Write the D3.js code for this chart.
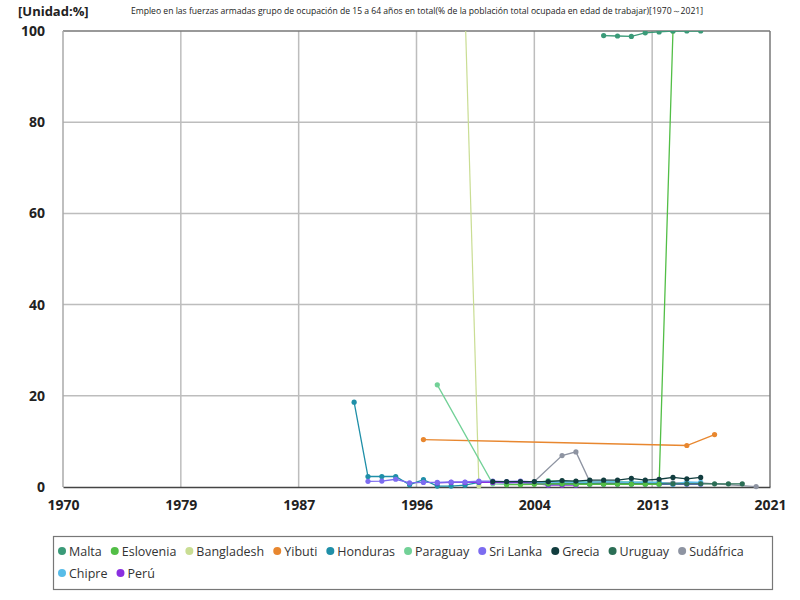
<!DOCTYPE html>
<html><head><meta charset="utf-8">
<script src="https://cdn.jsdelivr.net/npm/d3@7"></script>
<style>body{margin:0;background:#fff;font-family:"Open Sans","Noto Sans",sans-serif;}</style>
</head><body><svg id="c" width="800" height="600"></svg>
<script>
const title = "Empleo en las fuerzas armadas grupo de ocupación de 15 a 64 años en total(% de la población total ocupada en edad de trabajar)[1970～2021]";
const unitLabel = "[Unidad:%]";
const xTickLabels = [1970, 1979, 1987, 1996, 2004, 2013, 2021];
const yTicks = [0, 20, 40, 60, 80, 100];
const seriesNames = ["Malta","Eslovenia","Bangladesh","Yibuti","Honduras","Paraguay","Sri Lanka","Grecia","Uruguay","Sudáfrica","Chipre","Perú"];
const colors = ["#3a9a78","#52be46","#c9dd93","#e8872f","#1f8fa8","#72d197","#7c6cf0","#123d3f","#2b6e55","#8e94a2","#58bce8","#8a2fe0"];

const malta = [[2009,99.0],[2010,98.9],[2011,98.8],[2012,99.6],[2013,99.8],[2014,100],[2015,100],[2016,100]];
const eslovenia = [[2002,0.5],[2003,0.5],[2004,0.6],[2005,0.7],[2006,0.7],[2007,0.6],[2008,0.6],[2009,0.6],[2010,0.6],[2011,0.6],[2012,0.6],[2013,0.6],[2014,100]];
const bangladesh = [[1999,105],[2000,0.3]];
const yibuti = [[1996,10.4],[2015,9.1],[2017,11.5]];
const honduras = [[1991,18.6],[1992,2.3],[1993,2.3],[1994,2.3],[1995,0.5],[1996,1.6],[1997,0.2],[1998,0.2],[1999,0.4],[2000,1.0],[2001,1.1],[2002,1.0],[2003,1.0],[2004,0.9],[2005,0.8],[2006,0.9],[2007,0.8],[2008,0.8],[2009,0.9],[2010,0.9],[2011,0.8],[2012,0.8],[2013,0.9],[2014,0.8],[2015,0.7]];
const paraguay = [[1997,22.4],[2001,0.7],[2002,0.6],[2003,0.7],[2004,0.9],[2005,1.4],[2006,1.3],[2007,1.2],[2008,1.1],[2009,1.1],[2010,1.2],[2011,1.1],[2012,1.0],[2013,1.0]];
const sriLanka = [[1992,1.25],[1993,1.3],[1994,1.7],[1995,0.9],[1996,1.0],[1997,1.0],[1998,1.1],[1999,1.1],[2000,1.3],[2001,1.3],[2002,1.2],[2003,1.3],[2004,1.1],[2005,0.6],[2006,0.7],[2007,0.6],[2008,0.6],[2009,0.6],[2010,0.6],[2011,0.6],[2012,0.6],[2013,0.6],[2014,0.6],[2015,0.6],[2016,0.6]];
const grecia = [[2001,1.2],[2002,1.2],[2003,1.2],[2004,1.2],[2005,1.2],[2006,1.4],[2007,1.3],[2008,1.5],[2009,1.5],[2010,1.5],[2011,1.9],[2012,1.5],[2013,1.7],[2014,2.1],[2015,1.8],[2016,2.1]];
const uruguay = [[2005,0.7],[2006,0.7],[2007,0.7],[2008,0.7],[2009,0.7],[2010,0.7],[2011,0.7],[2012,0.7],[2013,0.7],[2014,0.7],[2015,0.7],[2016,0.7],[2017,0.7],[2018,0.7],[2019,0.7]];
const sudafrica = [[2004,1.2],[2006,6.9],[2007,7.7],[2008,1.2],[2009,0.9],[2010,0.9],[2011,0.9],[2012,0.9],[2013,0.9],[2014,0.9],[2015,0.9],[2016,0.9],[2020,0.1]];
const chipre = [[2004,1.0],[2005,1.1],[2006,1.1],[2007,1.1],[2008,1.0],[2009,1.2],[2010,1.1],[2011,1.0],[2012,1.1],[2013,1.0],[2014,0.6],[2015,1.1],[2016,1.0]];
const peru = [[1997,0.9],[1998,1.0],[1999,1.0],[2000,1.1],[2001,1.0],[2002,0.9],[2003,1.0],[2004,0.8],[2005,0.4],[2006,0.4],[2007,0.4]];

const allSeries = [malta,eslovenia,bangladesh,yibuti,honduras,paraguay,sriLanka,grecia,uruguay,sudafrica,chipre,peru];

const svg = d3.select("#c");
const L = 63, R = 770, T = 31, B = 487;
const x = d3.scaleLinear().domain([1970, 2021]).range([L, R]);
const y = d3.scaleLinear().domain([0, 100]).range([B, T]);
const tickPos = xTickLabels.map((d, i) => 1970 + i * (2021 - 1970) / 6);

svg.append("text").attr("x", 417).attr("y", 14).attr("text-anchor", "middle")
  .attr("font-size", 8.6).attr("fill", "#222").text(title);
svg.append("text").attr("x", 18).attr("y", 16).attr("font-size", 13).attr("font-weight", "bold")
  .attr("fill", "#222").text(unitLabel);

// grid
svg.append("g").selectAll("line").data(tickPos.slice(1, -1)).join("line")
  .attr("x1", d => x(d)).attr("x2", d => x(d)).attr("y1", T).attr("y2", B)
  .attr("stroke", "#bdbdbd").attr("stroke-width", 1.5);
svg.append("g").selectAll("line").data(yTicks.slice(1, -1)).join("line")
  .attr("x1", L).attr("x2", R).attr("y1", d => y(d)).attr("y2", d => y(d))
  .attr("stroke", "#bdbdbd").attr("stroke-width", 1.5);
// frame
svg.append("line").attr("x1", L).attr("x2", R).attr("y1", T).attr("y2", T).attr("stroke", "#777").attr("stroke-width", 1.5);
svg.append("line").attr("x1", L).attr("x2", L).attr("y1", T).attr("y2", B).attr("stroke", "#aaa").attr("stroke-width", 1.5);
svg.append("line").attr("x1", R).attr("x2", R).attr("y1", T).attr("y2", B).attr("stroke", "#777").attr("stroke-width", 1.5);

// axes labels
const xAxis = d3.axisBottom(x).tickValues(tickPos).tickFormat((d, i) => xTickLabels[i]).tickSize(0).tickPadding(13);
const gx = svg.append("g").attr("transform", `translate(0,${B})`).call(xAxis);
gx.select(".domain").attr("stroke", "#444").attr("stroke-width", 1.5);
gx.selectAll("text").attr("font-size", 14).attr("font-weight", "bold").attr("fill", "#222").attr("font-family", "Open Sans, sans-serif");
const yAxis = d3.axisLeft(y).tickValues(yTicks).tickSize(0).tickPadding(18);
const gy = svg.append("g").attr("transform", `translate(${L},0)`).call(yAxis);
gy.select(".domain").remove();
gy.selectAll("text").attr("font-size", 14).attr("font-weight", "bold").attr("fill", "#222").attr("font-family", "Open Sans, sans-serif");

svg.append("clipPath").attr("id", "clip").append("rect").attr("x", L - 4).attr("y", T).attr("width", R - L + 8).attr("height", B - T + 4);

const line = d3.line().x(d => x(d[0])).y(d => y(d[1]));
const plot = svg.append("g").attr("clip-path", "url(#clip)");
const order = [2,3,4,5,9,11,6,10,8,1,7,0];
order.forEach(i => {
  const s = allSeries[i];
  const g = plot.append("g");
  g.append("path").datum(s).attr("d", line).attr("fill", "none")
    .attr("stroke", colors[i]).attr("stroke-width", i === 2 ? 1.2 : 1.3);
  g.selectAll("circle").data(s).join("circle")
    .attr("cx", d => x(d[0])).attr("cy", d => y(d[1])).attr("r", 2.6).attr("fill", colors[i]);
});

// legend
svg.append("rect").attr("x", 53.5).attr("y", 536.5).attr("width", 719).attr("height", 53)
  .attr("fill", "#fff").attr("stroke", "#777").attr("stroke-width", 1.2);
const lg = svg.append("g");
let lx = 62, ly = 551;
seriesNames.forEach((n, i) => {
  const it = lg.append("g");
  const t = it.append("text").attr("x", 7).attr("y", 4.5).attr("font-size", 12.5).attr("fill", "#333").text(n);
  const w = t.node().getComputedTextLength() + 7;
  if (lx + w > 765) { lx = 62; ly += 22; }
  it.attr("transform", `translate(${lx},${ly})`);
  it.append("circle").attr("cx", 0).attr("cy", 0).attr("r", 4).attr("fill", colors[i]);
  lx += w + 13;
});
</script></body></html>
